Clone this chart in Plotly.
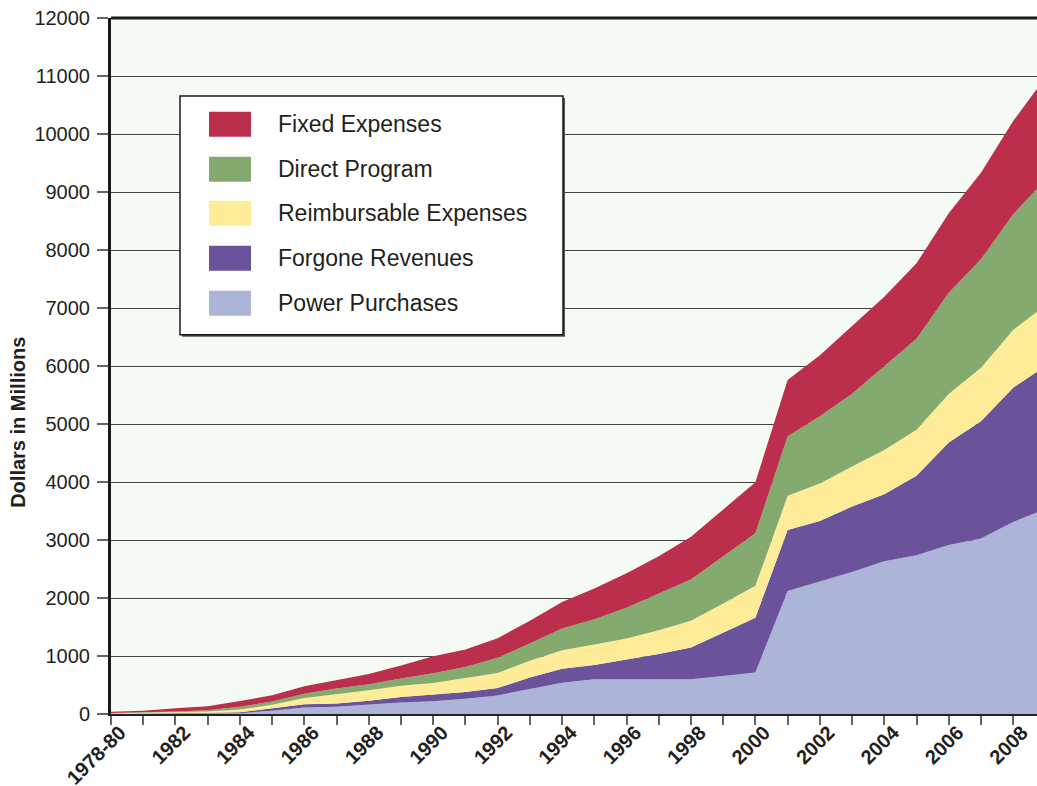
import plotly.graph_objects as go

# ---- data (values in millions of dollars) ----
years = ["1978-80"] + [str(y) for y in range(1981, 2010)]
power_purchases = [0, 2, 5, 8, 15, 58, 110, 123, 158, 199, 220, 264, 321, 425, 539, 597, 597, 597, 600, 654,
                   715, 2120, 2281, 2448, 2632, 2736, 2915, 3024, 3312, 3530]
forgone_revenues = [3, 4, 7, 12, 15, 36, 60, 58, 70, 94, 113, 115, 126, 206, 241, 246, 344, 436, 547, 752,
                    943, 1054, 1048, 1129, 1158, 1371, 1768, 2022, 2314, 2469]
reimbursable_expenses = [9, 12, 18, 21, 46, 64, 105, 158, 182, 193, 203, 241, 259, 287, 321, 356, 361, 413, 459, 499,
                         552, 587, 645, 691, 760, 795, 835, 925, 995, 1049]
direct_program = [6, 10, 15, 23, 47, 58, 76, 100, 105, 128, 168, 189, 264, 298, 373, 436, 528, 631, 712, 814,
                  906, 1026, 1158, 1252, 1450, 1569, 1746, 1868, 1994, 2164]
fixed_expenses = [22, 30, 55, 71, 99, 106, 129, 141, 175, 222, 290, 304, 338, 390, 459, 528, 597, 642, 740, 809,
                  879, 972, 1052, 1170, 1195, 1299, 1368, 1494, 1609, 1766]

series_names = ["Power Purchases", "Forgone Revenues", "Reimbursable Expenses", "Direct Program", "Fixed Expenses"]
series_values = [power_purchases, forgone_revenues, reimbursable_expenses, direct_program, fixed_expenses]
series_colors = ["#ACB4D8", "#6A539B", "#FFEC99", "#84AA6F", "#BC2F4C"]

y_ticks = list(range(0, 12001, 1000))
y_tick_text = [str(v) for v in y_ticks]
tick_labels = [y if (i % 2 == 0 and i <= 28) else "" for i, y in enumerate(years)]

# ---- layout geometry (page body margin removed via post_script) ----
W, H = 1037, 786
ML, MR, MT = 111, 0, 18
MB = H - 714.3
PW, PH = W - ML - MR, H - MT - MB

def px_x(px):
    return (px - ML) / PW

def px_y(py):
    return (H - MB - py) / PH

x_idx = list(range(len(years)))

fig = go.Figure()
for name, vals, col in zip(series_names, series_values, series_colors):
    fig.add_trace(go.Scatter(
        x=x_idx, y=vals, name=name, mode="lines", stackgroup="one",
        line=dict(width=0, color=col), fillcolor=col, showlegend=False,
    ))

font_fam = "Liberation Sans, Arial, sans-serif"
txt_col = "#231F20"

fig.update_layout(
    width=W, height=H,
    margin=dict(l=ML, r=MR, t=MT, b=MB, autoexpand=False),
    paper_bgcolor="white",
    plot_bgcolor="#F5FAF4",
    font=dict(family=font_fam, color=txt_col),
    xaxis=dict(
        range=[0, 28.74], automargin=False,
        tickmode="array", tickvals=x_idx[:29], ticktext=tick_labels[:29],
        tickangle=-45, ticklabelshift=9, ticklabelstandoff=-12,
        ticklabeloverflow="allow",
        tickfont=dict(size=20, weight="bold", color=txt_col, family=font_fam),
        ticks="outside", ticklen=9, tickwidth=1.5, tickcolor="#666",
        showgrid=False, zeroline=False,
        showline=True, linecolor="#222", linewidth=2,
    ),
    yaxis=dict(
        range=[0, 12000], automargin=False,
        tickmode="array", tickvals=y_ticks, ticktext=y_tick_text,
        ticklabeloverflow="allow", ticklabelstandoff=3,
        tickfont=dict(size=20, color=txt_col, family=font_fam),
        ticks="outside", ticklen=11, tickwidth=1.5, tickcolor="#666",
        showgrid=True, gridcolor="#444", gridwidth=1.3,
        zeroline=False,
        showline=True, linecolor="#1A1A1A", linewidth=3,
    ),
)

# top frame line
fig.add_shape(type="line", xref="paper", yref="paper", x0=0, x1=1, y0=1, y1=1,
              line=dict(color="#1A1A1A", width=3), layer="above")

# y-axis title
fig.add_annotation(text="Dollars in Millions", textangle=-90, xref="paper", yref="paper",
                   x=0, xanchor="center", xshift=-(ML - 18), y=px_y(423), yanchor="middle",
                   showarrow=False,
                   font=dict(size=20, weight="bold", color=txt_col, family=font_fam))

# ---- custom legend ----
bx0, bx1, by0, by1 = 180, 563, 96, 335
fig.add_shape(type="rect", xref="paper", yref="paper",
              x0=px_x(bx0 + 2), x1=px_x(bx1 + 2), y0=px_y(by1 + 2), y1=px_y(by0 + 2),
              fillcolor="#555", line=dict(width=0), layer="above")
fig.add_shape(type="rect", xref="paper", yref="paper",
              x0=px_x(bx0), x1=px_x(bx1), y0=px_y(by1), y1=px_y(by0),
              fillcolor="white", line=dict(color="#1A1A1A", width=1.5), layer="above")

legend_rows = [124.3, 169.3, 213.3, 258.3, 303.3]
for row_y, name, col in zip(legend_rows, series_names[::-1], series_colors[::-1]):
    fig.add_shape(type="rect", xref="paper", yref="paper",
                  x0=px_x(209), x1=px_x(251), y0=px_y(row_y + 12.5), y1=px_y(row_y - 12.5),
                  fillcolor=col, line=dict(width=0), layer="above")
    fig.add_annotation(text=name, xref="paper", yref="paper", x=px_x(276), y=px_y(row_y),
                       xanchor="left", yanchor="middle", showarrow=False,
                       font=dict(size=23, color=txt_col, family=font_fam))

fig.write_html(
    "out.html",
    config={"displayModeBar": False},
    post_script="document.body.style.margin='0';document.documentElement.style.overflow='hidden';document.body.style.overflow='hidden';",
)
